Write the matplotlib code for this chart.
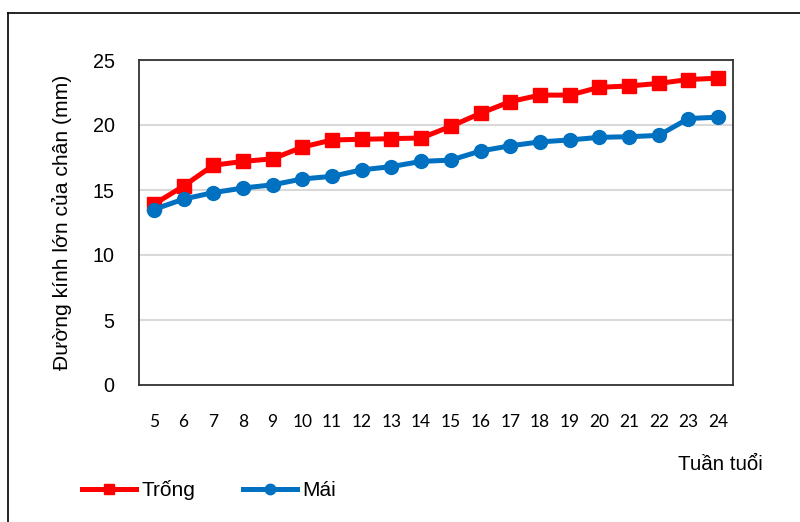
import matplotlib.pyplot as plt
from matplotlib.lines import Line2D

weeks = [5, 6, 7, 8, 9, 10, 11, 12, 13, 14, 15, 16, 17, 18, 19, 20, 21, 22, 23, 24]
trong = [13.9, 15.3, 16.9, 17.2, 17.4, 18.3, 18.85, 18.9, 18.95, 19.0,
         19.9, 20.9, 21.8, 22.3, 22.3, 22.9, 23.0, 23.2, 23.5, 23.6]
mai = [13.5, 14.3, 14.8, 15.15, 15.4, 15.85, 16.05, 16.55, 16.8, 17.2,
       17.3, 18.0, 18.4, 18.7, 18.85, 19.05, 19.1, 19.2, 20.5, 20.6]

plt.rcParams['font.family'] = ['Liberation Sans', 'DejaVu Sans']

fig = plt.figure(figsize=(8, 5.22), dpi=100)
ax = fig.add_axes([139 / 800, 1 - 385 / 522, 594 / 800, 325 / 522])

# outer chart frame (only left and top edges fall inside the image)
fig.add_artist(Line2D([8 / 800, 8 / 800], [0, 1 - 13 / 522], transform=fig.transFigure,
                      color='black', lw=1.2))
fig.add_artist(Line2D([8 / 800, 1], [1 - 13 / 522, 1 - 13 / 522], transform=fig.transFigure,
                      color='black', lw=1.2))

x = list(range(len(weeks)))
ax.plot(x, trong, color='#ff0000', lw=3.6, marker='s', markersize=9.5, label='Trống')
ax.plot(x, mai, color='#0070c0', lw=3.6, marker='o', markersize=10, label='Mái')

ax.set_xlim(-0.5, len(weeks) - 0.5)
ax.set_ylim(0, 25)
ax.set_yticks([0, 5, 10, 15, 20, 25])
ax.set_xticks(x)
ax.set_xticklabels([str(w) for w in weeks], family=['Lato', 'DejaVu Sans'], fontsize=12.5)
ax.tick_params(axis='x', length=0, pad=21)
ax.tick_params(axis='y', length=0, pad=17.5, labelsize=14.2)
ax.grid(axis='y', color='#d9d9d9', lw=1.5)
ax.set_axisbelow(True)
for s in ax.spines.values():
    s.set_color('#333333')
    s.set_linewidth(1.3)

ax.set_ylabel('Đường kính lớn của chân (mm)', fontsize=15.2)
ax.yaxis.set_label_coords(-0.112, 0.5)

fig.text(763 / 800, 1 - 465 / 522, 'Tuần tuổi', fontsize=14.8, ha='right', va='center')

fig.legend(loc='center left', bbox_to_anchor=(82 / 800, 1 - 490 / 522), ncol=2,
           frameon=False, fontsize=15, handlelength=2.6, handletextpad=0.25,
           columnspacing=2.3, markerscale=0.75, borderaxespad=0, borderpad=0)

fig.savefig('out.png', dpi=100)
